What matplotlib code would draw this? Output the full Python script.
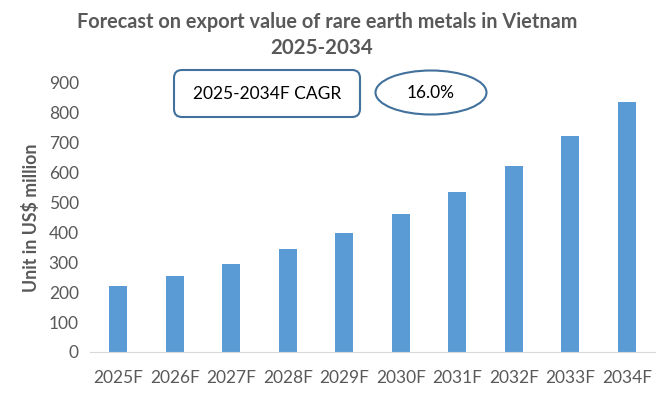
import matplotlib
matplotlib.use('Agg')
import matplotlib.pyplot as plt
from matplotlib.patches import FancyBboxPatch, Ellipse

# values
years = ['2025F', '2026F', '2027F', '2028F', '2029F', '2030F', '2031F', '2032F', '2033F', '2034F']
export_value = [221, 255, 295, 345, 398, 462, 535, 622, 722, 835]
y_ticks = [0, 100, 200, 300, 400, 500, 600, 700, 800, 900]
cagr_label = '2025-2034F CAGR'
cagr_value = '16.0%'

plt.rcParams['font.family'] = ['Lato', 'DejaVu Sans']
grey = '#595959'
W, H = 668, 397

fig = plt.figure(figsize=(W / 100, H / 100), dpi=100)

# main axes placed in pixel terms
left, right, top, bottom = 90, 655, 82.7, 352
ax = fig.add_axes([left / W, (H - bottom) / H, (right - left) / W, (bottom - top) / H])
ax.bar(range(len(years)), export_value, width=0.31, color='#5B9BD5')
ax.set_xlim(-0.5, len(years) - 0.5)
ax.set_ylim(0, 900)
ax.set_yticks(y_ticks)
ax.set_xticks(range(len(years)))
ax.set_xticklabels(years)
ax.tick_params(axis='both', length=0, labelsize=12.5, colors=grey)
ax.tick_params(axis='x', pad=13)
ax.tick_params(axis='y', pad=8)
for s in ['top', 'right', 'left']:
    ax.spines[s].set_visible(False)
ax.spines['bottom'].set_color('#D9D9D9')
ax.set_ylabel('Unit in US$ million', fontsize=12.8, fontweight='bold', color=grey, labelpad=6)

# overlay in pixel coordinates for title and CAGR shapes
ov = fig.add_axes([0, 0, 1, 1])
ov.set_xlim(0, W)
ov.set_ylim(H, 0)
ov.axis('off')
ov.text(327, 22, 'Forecast on export value of rare earth metals in Vietnam',
        ha='center', va='center', fontsize=14.3, fontweight='bold', color=grey)
ov.text(322, 48, '2025-2034', ha='center', va='center',
        fontsize=14.8, fontweight='bold', color=grey)

box = FancyBboxPatch((182, 78), 170, 31, boxstyle='round,pad=8',
                     fc='white', ec='#41719C', lw=1.5)
ov.add_patch(box)
ov.text(267, 94, cagr_label, ha='center', va='center', fontsize=12.5, color='black')

ell = Ellipse((431, 92.5), 111, 44, fc='white', ec='#41719C', lw=1.5)
ov.add_patch(ell)
ov.text(431, 93, cagr_value, ha='center', va='center', fontsize=12.5, color='black')

fig.savefig('out.png', dpi=100)
